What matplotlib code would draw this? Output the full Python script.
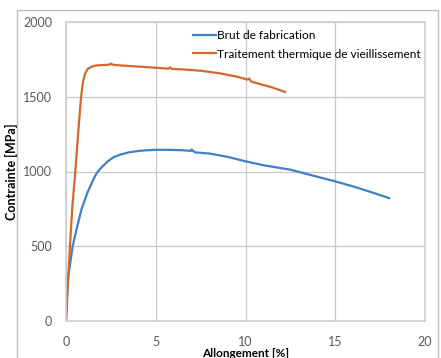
import matplotlib
matplotlib.use("Agg")
import matplotlib.pyplot as plt
from matplotlib.patches import Rectangle

# Brut de fabrication
brut_x = [0, 0.05, 0.13, 0.25, 0.37, 0.6, 0.87, 1.2, 1.5, 1.71, 2.0, 2.3, 2.64, 3.0, 3.5, 4.0,
          4.5, 5.0, 5.5, 6.0, 6.5, 6.95, 7.0, 7.05, 7.2, 8.0, 9.0, 10.0, 11.0, 12.5, 14.0, 15.0,
          16.0, 17.0, 18.0]
brut_y = [0, 170, 300, 400, 500, 620, 750, 860, 940, 990, 1030, 1065, 1095, 1112, 1128, 1137,
          1142, 1145, 1145, 1144, 1142, 1138, 1148, 1140, 1128, 1120, 1098, 1068, 1042, 1012, 965, 934,
          900, 862, 822]

# Traitement thermique de vieillissement
tt_x = [0, 0.1, 0.22, 0.35, 0.52, 0.68, 0.84, 0.95, 1.05, 1.2, 1.4, 1.6, 2.0, 2.4, 2.5, 2.6,
        3.0, 4.0, 5.0, 5.7, 5.8, 5.9, 6.5, 7.5, 8.5, 9.5, 10.1, 10.2, 10.3, 10.5, 11.5, 12.2]
tt_y = [0, 230, 500, 760, 1000, 1260, 1500, 1600, 1650, 1685, 1700, 1708, 1712, 1714, 1722, 1714,
        1710, 1702, 1694, 1688, 1696, 1686, 1683, 1674, 1658, 1635, 1615, 1622, 1603, 1595, 1562, 1532]

x_ticks = [0, 5, 10, 15, 20]
y_ticks = [0, 500, 1000, 1500, 2000]

plt.rcParams['font.family'] = ['Lato', 'DejaVu Sans']

fig = plt.figure(figsize=(4.41, 3.58), dpi=100)
fig.patches.append(Rectangle((16.5 / 441, -0.1), (437.5 - 16.5) / 441, 1 - 9.5 / 358 + 0.1,
                             transform=fig.transFigure, fill=False, edgecolor='#bfbfbf', lw=1))
ax = fig.add_axes([66 / 441, 1 - 321 / 358, (425 - 66) / 441, (321 - 22) / 358])

ax.plot(brut_x, brut_y, color='#4080c6', lw=1.6, label='Brut de fabrication')
ax.plot(tt_x, tt_y, color='#d2692a', lw=1.6, label='Traitement thermique de vieillissement')

ax.set_xlim(0, 20)
ax.set_ylim(0, 2000)
ax.set_xticks(x_ticks)
ax.set_yticks(y_ticks)
ax.grid(True, color='#c8c8c8', lw=0.9)
ax.set_axisbelow(True)
for s in ax.spines.values():
    s.set_color('#d0d0d0')
    s.set_linewidth(1.2)
ax.tick_params(length=0, labelsize=9, colors='#595959')
ax.tick_params(axis='x', pad=11)
ax.tick_params(axis='y', pad=10)

ax.set_xlabel('Allongement [%]', fontweight='bold', fontsize=8.5, labelpad=0)
ax.set_ylabel('Contrainte [MPa]', fontweight='bold', fontsize=9, labelpad=4)

ax.legend(loc='upper left', bbox_to_anchor=(0.33, 1.0), frameon=False, fontsize=8.6,
          handlelength=1.9, handletextpad=0.1, labelspacing=0.6, borderaxespad=0.3)

fig.savefig('out.png', dpi=100)
